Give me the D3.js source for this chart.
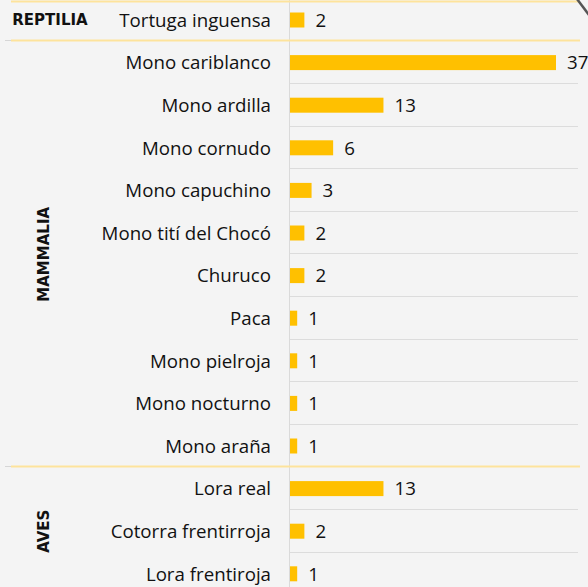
<!DOCTYPE html>
<html>
<head>
<meta charset="utf-8">
<script src="https://cdn.jsdelivr.net/npm/d3@7/dist/d3.min.js"></script>
<style>
  html, body { margin: 0; padding: 0; background: #f4f4f4; }
  svg { display: block; }
</style>
</head>
<body>
<div id="chart"></div>
<script>
const groups = ["REPTILIA", "MAMMALIA", "AVES"];
const categories = [
  "Tortuga inguensa",
  "Mono cariblanco", "Mono ardilla", "Mono cornudo", "Mono capuchino", "Mono tití del Chocó",
  "Churuco", "Paca", "Mono pielroja", "Mono nocturno", "Mono araña",
  "Lora real", "Cotorra frentirroja", "Lora frentiroja"
];
const categoryGroup = [
  "REPTILIA",
  "MAMMALIA", "MAMMALIA", "MAMMALIA", "MAMMALIA", "MAMMALIA",
  "MAMMALIA", "MAMMALIA", "MAMMALIA", "MAMMALIA", "MAMMALIA",
  "AVES", "AVES", "AVES"
];
const values = [2, 37, 13, 6, 3, 2, 2, 1, 1, 1, 1, 13, 2, 1];

const W = 588, H = 587;
const svg = d3.select("#chart").append("svg").attr("width", W).attr("height", H);
svg.append("rect").attr("width", W).attr("height", H).attr("fill", "#f4f4f4");

const y = d3.scaleBand().domain(categories).range([-1.3, -1.3 + 42.6 * categories.length]).paddingInner(0).paddingOuter(0);
const x = d3.scaleLinear().domain([0, 37]).range([290, 556]);
const barH = 15;

// gridlines between rows (within groups)
categories.forEach((c, i) => {
  if (i === 0) return;
  if (categoryGroup[i] !== categoryGroup[i - 1]) return;
  const yy = Math.round(y(c)) - 0.5;
  svg.append("line").attr("x1", 290).attr("x2", 578).attr("y1", yy).attr("y2", yy)
    .attr("stroke", "#dcdcdc").attr("stroke-width", 1);
});

// vertical axis line
svg.append("line").attr("x1", 289.5).attr("x2", 289.5).attr("y1", 0).attr("y2", H)
  .attr("stroke", "#dadada").attr("stroke-width", 1);

// group separators
const sepYs = [1.5];
categories.forEach((c, i) => {
  if (i > 0 && categoryGroup[i] !== categoryGroup[i - 1]) sepYs.push(Math.round(y(c)) - 0.5);
});
sepYs.forEach((yy, k) => {
  if (k > 0) {
    svg.append("line").attr("x1", 5).attr("x2", 11).attr("y1", yy).attr("y2", yy)
      .attr("stroke", "#d6d6d6").attr("stroke-width", 1);
  }
  svg.append("line").attr("x1", 11).attr("x2", 580).attr("y1", yy).attr("y2", yy)
    .attr("stroke", "#fde39c").attr("stroke-width", 2);
});

// bars
svg.selectAll("rect.bar").data(categories).enter().append("rect")
  .attr("class", "bar")
  .attr("x", x(0))
  .attr("y", d => y(d) + y.bandwidth() / 2 - barH / 2)
  .attr("width", (d, i) => x(values[i]) - x(0))
  .attr("height", barH)
  .attr("fill", "#ffc000");

// value labels
svg.selectAll("text.val").data(categories).enter().append("text")
  .attr("class", "val")
  .attr("x", (d, i) => x(values[i]) + 11)
  .attr("y", d => y(d) + y.bandwidth() / 2)
  .attr("dy", "0.36em")
  .attr("font-family", "'Open Sans', 'Noto Sans', sans-serif")
  .attr("font-size", 18.7)
  .attr("fill", "#111")
  .text((d, i) => values[i]);

// category labels
svg.selectAll("text.cat").data(categories).enter().append("text")
  .attr("class", "cat")
  .attr("x", 271)
  .attr("y", d => y(d) + y.bandwidth() / 2)
  .attr("dy", "0.36em")
  .attr("text-anchor", "end")
  .attr("font-family", "'Open Sans', 'Noto Sans', sans-serif")
  .attr("font-size", 18.7)
  .attr("fill", "#111")
  .text(d => d);

// group labels
groups.forEach(g => {
  const idx = categories.map((c, i) => i).filter(i => categoryGroup[i] === g);
  const top = y(categories[idx[0]]);
  const bot = y(categories[idx[idx.length - 1]]) + y.bandwidth();
  const cy = (top + bot) / 2;
  const t = svg.append("text")
    .attr("font-family", "'DejaVu Sans', Verdana, sans-serif")
    .attr("font-weight", "bold")
    .attr("font-size", 15)
    .attr("fill", "#111")
    .attr("text-anchor", "middle")
    .text(g);
  if (idx.length === 1) {
    t.attr("x", 50).attr("y", cy).attr("dy", "0.36em");
  } else {
    t.attr("transform", `translate(44,${cy}) rotate(-90)`).attr("dy", "0.36em");
  }
});

// top-right corner decoration
svg.append("line").attr("x1", 577).attr("y1", -1).attr("x2", 589).attr("y2", 15)
  .attr("stroke", "#555").attr("stroke-width", 2.5);
</script>
</body>
</html>
